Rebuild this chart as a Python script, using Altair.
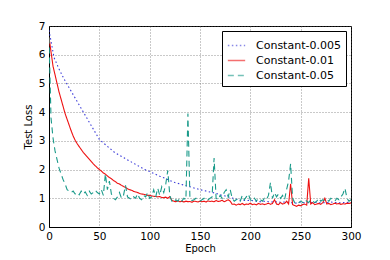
import altair as alt
import pandas as pd

series_names = ["Constant-0.005", "Constant-0.01", "Constant-0.05"]
series_colors = ["#3a3ad8", "#ee1111", "#1a9a8a"]

# Constant-0.005 sampled every 5 epochs
blue_epochs = list(range(0, 301, 5))
blue_loss = [6.85, 5.9, 5.5, 5.15, 4.85, 4.55, 4.25, 3.95, 3.65, 3.35, 3.05,
             2.9, 2.75, 2.6, 2.5, 2.4, 2.3, 2.2, 2.1, 2.0, 1.93,
             1.85, 1.77, 1.7, 1.62, 1.55, 1.5, 1.45, 1.4, 1.35, 1.3,
             1.26, 1.22, 1.18, 1.12, 1.08, 1.03, 0.98, 0.93, 0.92, 0.93,
             0.9, 0.88, 0.9, 0.87, 0.88, 0.86, 0.87, 0.85, 0.83, 0.86,
             0.84, 0.85, 0.86, 0.84, 0.85, 0.87, 0.85, 0.84, 0.86, 0.85]

# Constant-0.01 sampled every 2 epochs
red_epochs = list(range(0, 301, 2))
red_loss = [6.6, 6.1, 5.6, 5.3, 5.0, 4.7, 4.45, 4.2, 3.95, 3.75, 3.55, 3.35, 3.17,
            3.02, 2.9, 2.8, 2.7, 2.6, 2.52, 2.44, 2.36, 2.28, 2.2, 2.13, 2.06, 2.0,
            1.95, 1.88, 1.84, 1.78, 1.72, 1.68, 1.62, 1.58, 1.52, 1.5, 1.45, 1.41, 1.38,
            1.33, 1.3, 1.28, 1.24, 1.22, 1.2, 1.17, 1.15, 1.14, 1.12, 1.1, 1.1,
            1.08, 1.07, 1.06, 1.05, 1.06, 1.03, 1.02, 1.04, 1.0, 1.06, 0.93, 0.9, 0.88,
            0.91, 0.88, 0.9, 0.87, 0.9, 0.88, 0.89, 0.86, 0.9, 0.89, 0.87, 0.9,
            0.88, 0.9, 0.87, 0.91, 0.89, 0.9, 0.88, 0.92, 0.89, 0.9, 0.93, 0.88, 0.91,
            0.95, 0.9, 0.79, 0.8, 0.76, 0.8, 0.78, 0.82, 0.77, 0.8, 0.79, 0.83,
            0.78, 0.8, 0.77, 0.82, 0.79, 0.81, 0.78, 0.8, 0.83, 0.79, 0.82, 0.95, 0.8,
            0.78, 0.85, 0.8, 0.82, 0.9, 0.8, 1.5, 0.78, 0.75, 0.72, 0.76, 0.74,
            0.78, 0.8, 0.76, 1.7, 0.8, 0.85, 0.78, 0.8, 0.82, 0.79, 0.85, 1.0, 0.8,
            0.82, 0.78, 0.8, 0.83, 0.8, 0.82, 0.79, 0.81, 0.8, 0.83, 0.82, 0.84]

# Constant-0.05 sampled every 2 epochs
teal_epochs = list(range(0, 301, 2))
teal_loss = [6.6, 3.8, 3.1, 2.65, 2.35, 2.05, 1.85, 1.65, 1.5, 1.3, 1.25, 1.2, 1.25,
             1.15, 1.2, 1.12, 1.25, 1.15, 1.22, 1.1, 1.25, 1.15, 1.2, 1.28, 1.2, 1.15,
             1.3, 1.1, 1.85, 1.3, 1.6, 1.15, 1.0, 0.95, 1.05, 1.2, 1.0, 1.1, 1.45,
             1.05, 1.0, 0.95, 1.05, 1.0, 1.15, 1.0, 0.95, 1.1, 1.05, 1.2, 1.0,
             1.05, 1.3, 1.05, 1.35, 1.1, 1.4, 1.2, 1.5, 1.97, 1.1, 0.9, 0.85, 0.95,
             0.9, 1.0, 0.9, 1.0, 0.95, 3.95, 1.0, 0.92, 0.95, 1.0, 0.95, 0.9,
             0.95, 1.0, 0.92, 0.95, 1.0, 1.05, 2.4, 1.0, 0.95, 1.1, 1.0, 1.2, 1.3,
             1.05, 1.3, 1.0, 0.9, 0.95, 1.0, 0.9, 1.1, 0.95, 1.05, 1.15, 0.95,
             0.9, 1.0, 0.9, 1.0, 0.95, 0.9, 1.0, 0.95, 1.1, 1.55, 1.0, 1.2, 1.05,
             1.15, 1.0, 1.1, 0.95, 1.3, 1.6, 2.2, 1.0, 0.85, 0.8, 0.85, 0.9,
             0.85, 0.95, 0.9, 0.85, 0.95, 0.9, 0.85, 0.9, 1.0, 0.9, 0.95, 0.9, 0.95,
             0.9, 1.0, 0.95, 0.9, 1.0, 0.95, 1.05, 1.15, 1.35, 1.0, 0.9, 0.95]

x_ticks = [0, 50, 100, 150, 200, 250, 300]
y_ticks = [0, 1, 2, 3, 4, 5, 6, 7]

frames = []
for name, ep, vals in [(series_names[0], blue_epochs, blue_loss),
                       (series_names[1], red_epochs, red_loss),
                       (series_names[2], teal_epochs, teal_loss)]:
    frames.append(pd.DataFrame({"Epoch": ep[:len(vals)], "Loss": vals, "Series": name}))
df = pd.concat(frames, ignore_index=True)

font = "DejaVu Sans"

chart = alt.Chart(df).mark_line(strokeWidth=1.1, clip=True).encode(
    x=alt.X("Epoch:Q",
            scale=alt.Scale(domain=[0, 300], nice=False),
            axis=alt.Axis(title="Epoch", values=x_ticks, format="d", grid=True)),
    y=alt.Y("Loss:Q",
            scale=alt.Scale(domain=[0, 7], nice=False),
            axis=alt.Axis(title="Test Loss", values=y_ticks, format="d", grid=True)),
    color=alt.Color("Series:N",
                    scale=alt.Scale(domain=series_names, range=series_colors),
                    legend=alt.Legend(title=None)),
    strokeDash=alt.StrokeDash("Series:N",
                              scale=alt.Scale(domain=series_names,
                                              range=[[1.5, 2.5], [1, 0], [6, 4]]),
                              legend=alt.Legend(title=None)),
    order=alt.Order("Epoch:Q"),
).properties(
    width=302,
    height=201,
    autosize=alt.AutoSizeParams(type="none"),
    padding={"left": 41, "top": 18, "right": 31, "bottom": 31},
).configure_view(
    stroke="black", strokeWidth=1
).configure_axis(
    domainColor="black",
    domainWidth=1,
    ticks=False,
    labelFont=font,
    labelFontSize=10.5,
    labelColor="black",
    labelPadding=4,
    labelFlush=False,
    labelOverlap=False,
    titleFont=font,
    titleFontSize=10,
    titleFontWeight="normal",
    titleColor="black",
    gridColor="#555555",
    gridDash=[1, 2],
    gridWidth=0.8,
    gridOpacity=0.8,
).configure_axisX(
    titlePadding=2,
).configure_axisY(
    titlePadding=5,
).configure_legend(
    orient="top-right",
    offset=5,
    fillColor="white",
    strokeColor="black",
    strokeWidth=1,
    padding=5,
    cornerRadius=0,
    labelFont=font,
    labelFontSize=11,
    labelColor="black",
    symbolType="stroke",
    symbolSize=300,
    symbolStrokeWidth=1.6,
    symbolOpacity=0.6,
    labelOffset=10,
    rowPadding=0,
)

chart.save("out.html", embed_options={"renderer": "svg", "actions": False})
